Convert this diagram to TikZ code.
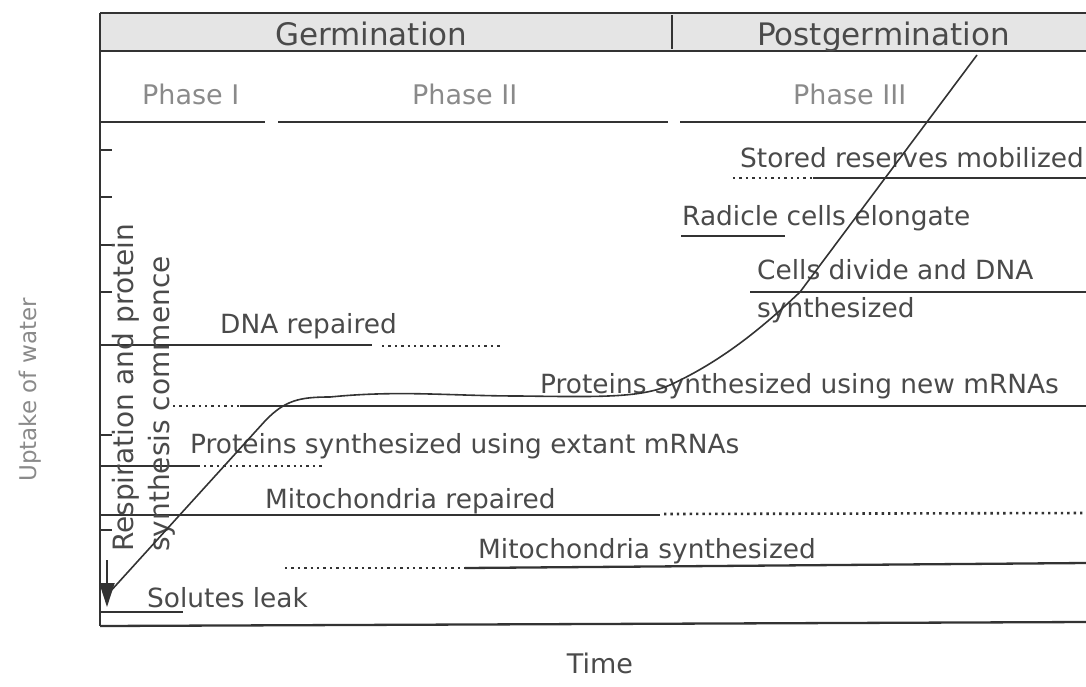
\documentclass[tikz,border=0pt]{standalone}
\usepackage{fontspec}
\setmainfont{DejaVu Sans}
\usetikzlibrary{arrows.meta}
\definecolor{ink}{HTML}{333333}
\definecolor{txt}{HTML}{4A4A4A}
\definecolor{ltxt}{HTML}{8A8A8A}
\tikzset{
  lbl/.style={anchor=base west, inner sep=0pt, text=txt, font=\fontsize{26.4}{30}\selectfont},
  hdr/.style={anchor=base west, inner sep=0pt, text=txt, font=\fontsize{31}{34}\selectfont},
  phs/.style={anchor=base west, inner sep=0pt, text=ltxt, font=\fontsize{27}{30}\selectfont},
  rot/.style={rotate=90, inner sep=0pt, text=txt, font=\fontsize{28}{32}\selectfont},
  ax/.style={inner sep=0pt, text=ltxt, font=\fontsize{23}{26}\selectfont},
  sol/.style={draw=ink, line width=2.3pt},
  dot/.style={draw=ink, line width=2.6pt, dash pattern=on 2.4pt off 4pt},
  tick/.style={draw=ink, line width=1.2pt},
  curve/.style={draw=ink, line width=1.6pt}
}
\begin{document}
\begin{tikzpicture}[x=1pt,y=-1pt]
\useasboundingbox (0,0) rectangle (1086,686);
% header band
\fill[black!10] (100,13) rectangle (1086,51);
\draw[sol] (100,13) -- (1086,13);
\draw[sol] (100,51) -- (1086,51);
\draw[draw=ink, line width=2.5pt] (672,15) -- (672,49);
\node[hdr] (germ) at (275,45) {Germination};
\node[hdr] (post) at (757,45) {Postgermination};
% phase row
\node[phs] (p1) at (142,104) {Phase I};
\node[phs] (p2) at (412,104) {Phase II};
\node[phs] (p3) at (793,104) {Phase III};
\draw[sol] (100,122) -- (265,122);
\draw[sol] (278,122) -- (668,122);
\draw[sol] (680,122) -- (1086,122);
% frame
\draw[sol] (100,13) -- (100,626);
\draw[sol] (100,626) -- (1086,622);
% left ticks
\foreach \yy in {150,197,245,292,435,530} \draw[tick] (100,\yy) -- (112,\yy);
% stored reserves
\node[lbl] (stored) at (740,167) {Stored reserves mobilized};
\draw[dot] (733,178) -- (813,178);
\draw[sol] (813,178) -- (1086,178);
% radicle
\node[lbl] (radicle) at (682,225) {Radicle cells elongate};
\draw[sol] (681,236) -- (785,236);
% cells divide
\node[lbl] (cells) at (757,279) {Cells divide and DNA};
\node[lbl] (cells2) at (757,317) {synthesized};
\draw[sol] (750,292) -- (1086,292);
% DNA repaired
\node[lbl] (dna) at (220,333) {DNA repaired};
\draw[sol] (100,345) -- (372,345);
\draw[dot] (382,346) -- (502,346);
% proteins new
\node[lbl] (pnew) at (540,393) {Proteins synthesized using new mRNAs};
\draw[dot] (173,406) -- (240,406);
\draw[sol] (240,406) -- (1086,406);
% proteins extant
\node[lbl] (pext) at (190,453) {Proteins synthesized using extant mRNAs};
\draw[sol] (100,466) -- (200,466);
\draw[dot] (204,466) -- (325,466);
% mito repaired
\node[lbl] (mrep) at (265,508) {Mitochondria repaired};
\draw[sol] (100,515) -- (660,515);
\draw[dot] (664,514) -- (1086,513);
% mito synthesized
\node[lbl] (msyn) at (478,558) {Mitochondria synthesized};
\draw[dot] (285,568) -- (465,568);
\draw[sol] (465,568) -- (1086,563);
% solutes leak
\node[lbl] (sol) at (147,607) {Solutes leak};
\draw[sol] (100,612) -- (183,612);
% rotated labels
\node[rot, anchor=base] (resp) at (133,388) {Respiration and protein};
\node[rot, anchor=base] (synth) at (169,404) {synthesis commence};
% axis labels
\node[ax, rotate=90] (uptake) at (30,390) {Uptake of water};
\node[ax, text=txt, font=\fontsize{27}{30}\selectfont] (time) at (600,663) {Time};
% arrow
\coordinate (atop) at (107,560);
\coordinate (atip) at (107,607);
\draw[draw=ink, line width=1.8pt, -{Triangle[width=15pt,length=24pt]}] (atop) -- (atip);
% water uptake curve
\coordinate (c0) at (108,594);
\coordinate (c1) at (265,421);
\coordinate (c2) at (330,397);
\coordinate (c3) at (520,396);
\coordinate (c4) at (670,385);
\coordinate (c5) at (800,292);
\coordinate (c6) at (977,55);
\draw[curve] (c0) -- (c1) .. controls (285,400) and (300,397) .. (c2)
  .. controls (400,390) and (450,396) .. (c3)
  .. controls (600,397) and (640,398) .. (c4)
  .. controls (720,362) and (760,330) .. (c5) -- (c6);
\end{tikzpicture}
\end{document}
